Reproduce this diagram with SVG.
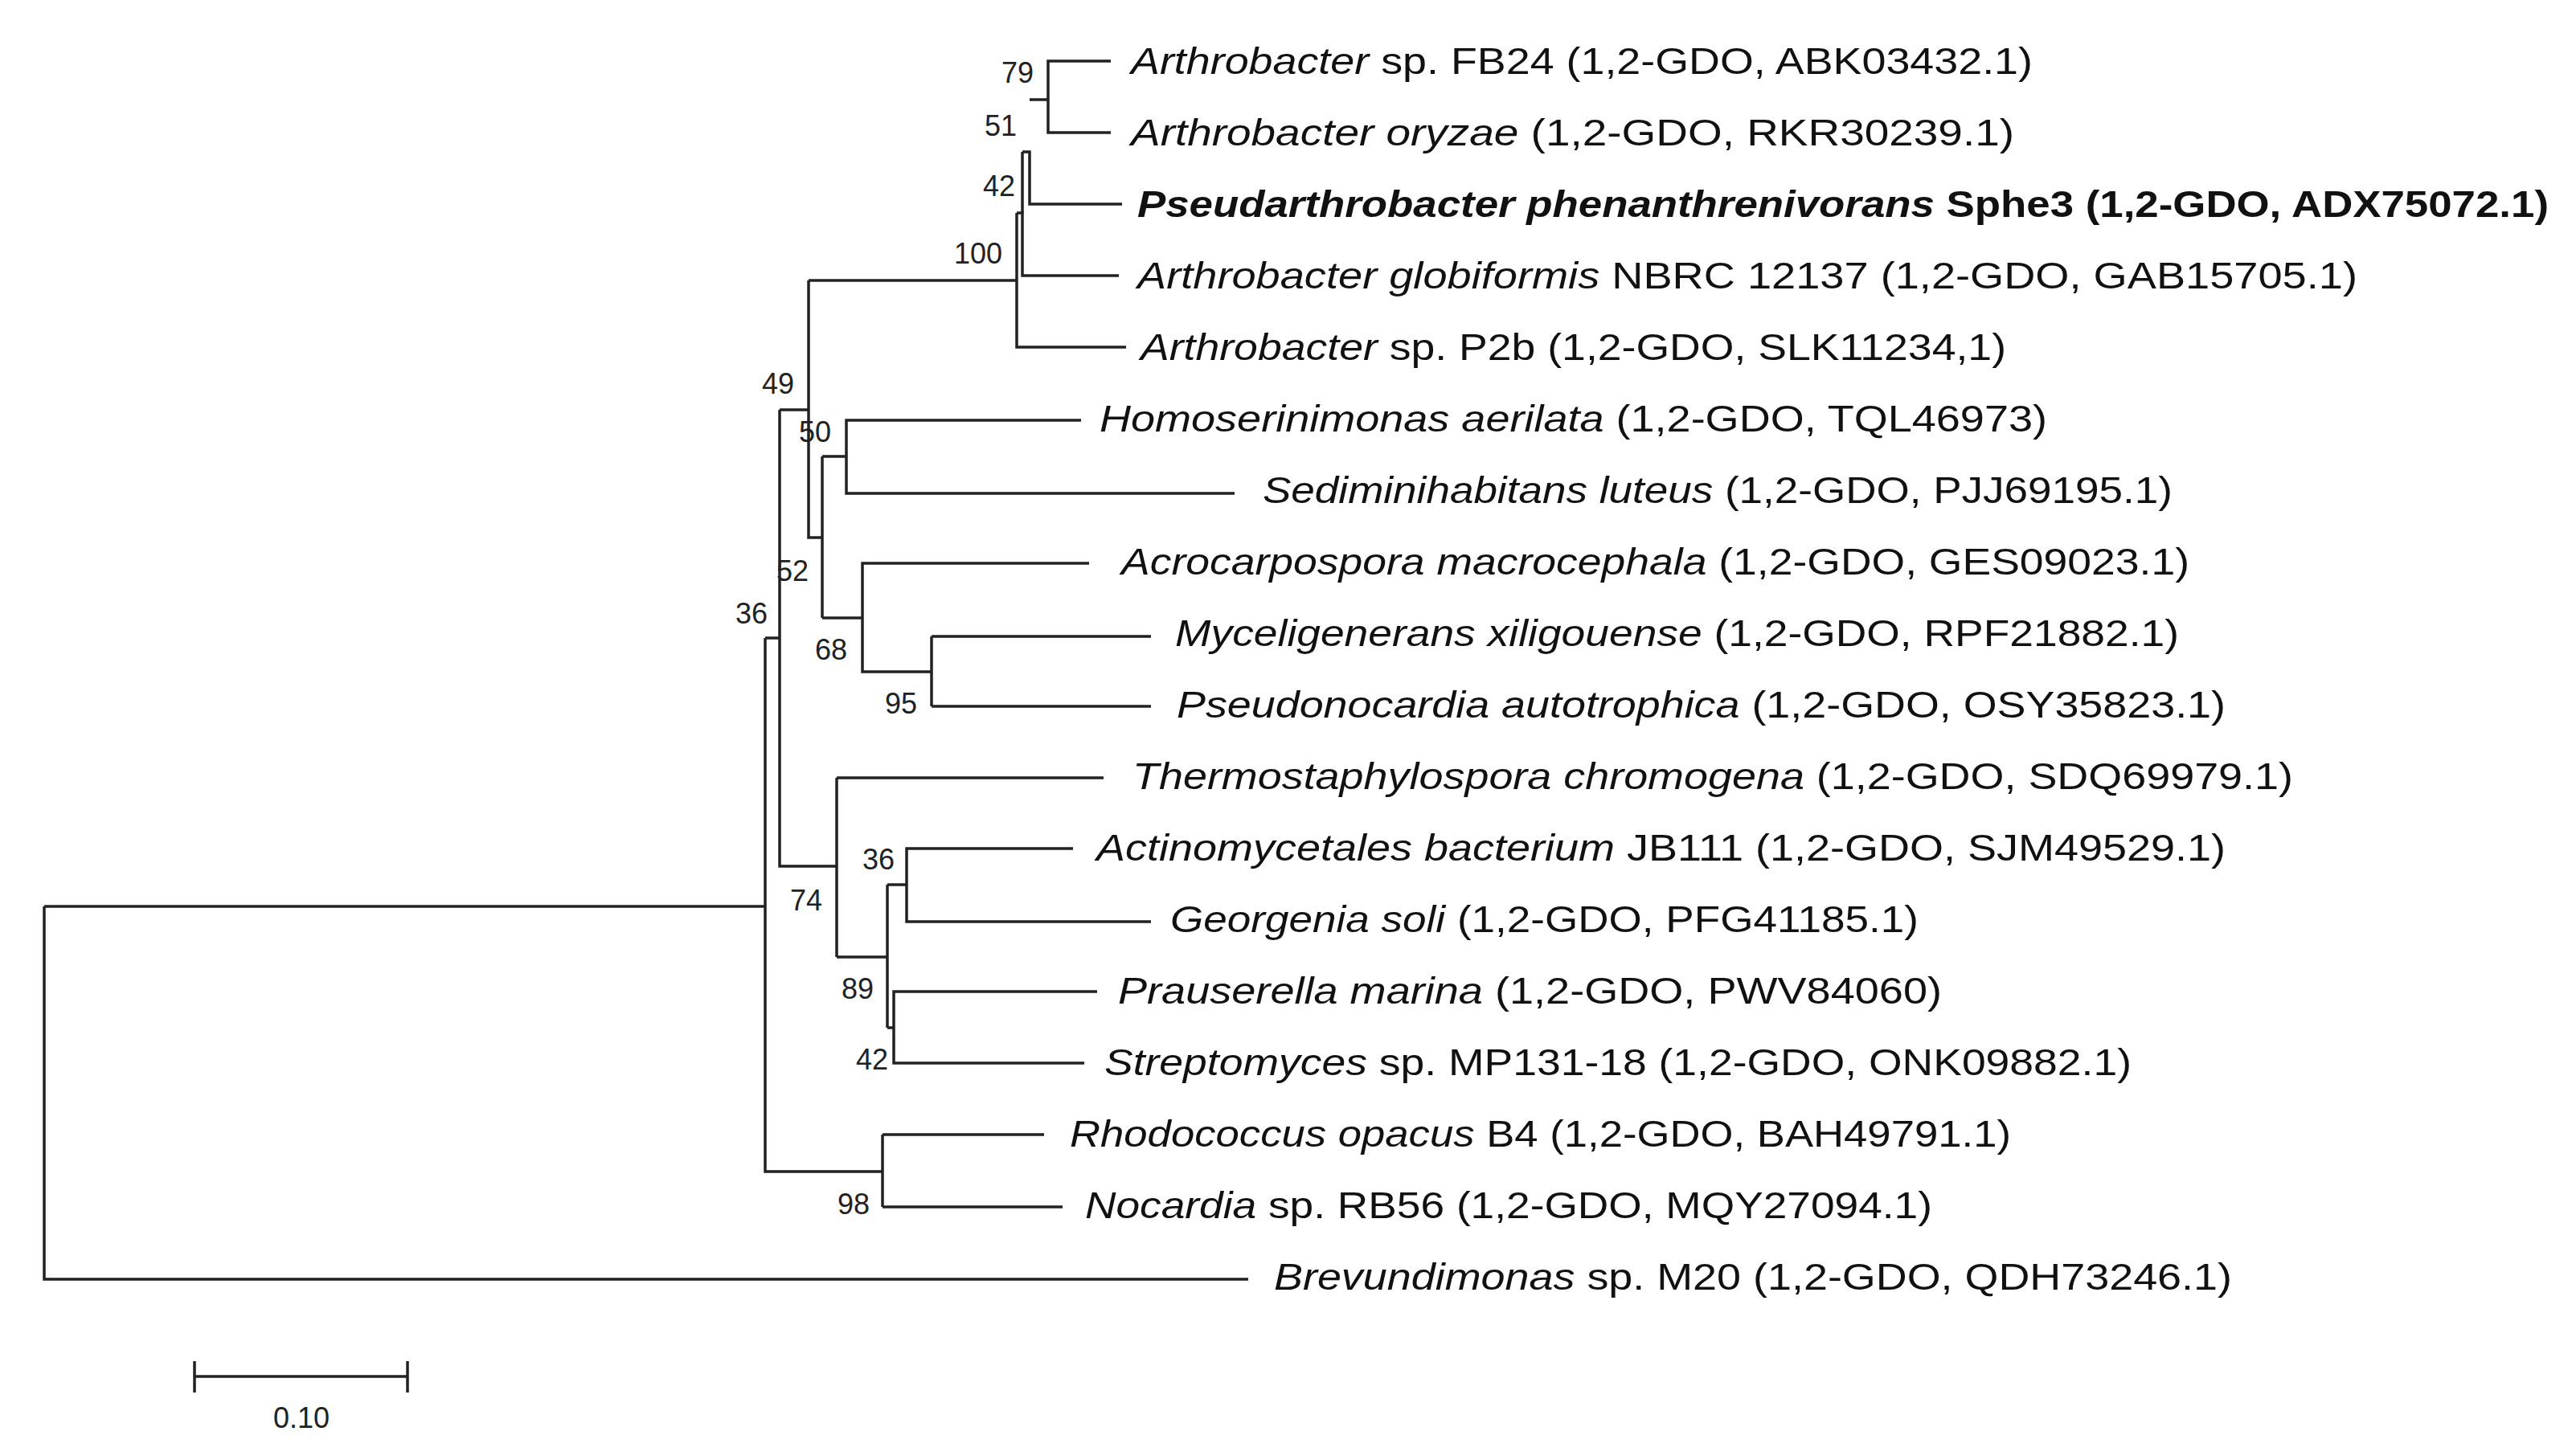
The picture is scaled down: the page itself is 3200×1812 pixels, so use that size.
<svg xmlns="http://www.w3.org/2000/svg" width="3200" height="1812" viewBox="0 0 3200 1812">
<style>
.br{fill:none;stroke:#222;stroke-width:3.5}
.lf{font-family:"Liberation Sans",Arial,sans-serif;font-size:46px;fill:#111}
.i{font-style:italic}
.b{font-weight:bold}
.bs{font-family:"Liberation Sans",Arial,sans-serif;font-size:36px;fill:#222;text-anchor:end}
</style>
<rect width="3200" height="1812" fill="#fff"/>
<g id="connectors" class="br">
<path d="M55,1128V1592H1553"/>
<path d="M55,1128H952"/>
<path d="M952,794V1458H1098"/>
<path d="M1098,1412V1502M1098,1412H1299M1098,1502H1322"/>
<path d="M952,794H970"/>
<path d="M970,510V1078H1041"/>
<path d="M970,510H1006"/>
<path d="M1006,349V669H1023"/>
<path d="M1006,349H1265"/>
<path d="M1265,265V432H1401"/>
<path d="M1265,265H1272V343H1392"/>
<path d="M1272,189V265M1272,189H1281V254H1396"/>
<path d="M1281,124H1304V76H1382M1304,124V165H1382"/>
<path d="M1023,568V769"/>
<path d="M1023,568H1053V523H1345M1053,568V614H1536"/>
<path d="M1023,769H1073V701H1355M1073,769V836H1159"/>
<path d="M1159,792V879M1159,792H1432M1159,879H1432"/>
<path d="M1041,968V1191M1041,968H1373"/>
<path d="M1041,1191H1104V1101M1104,1191V1279"/>
<path d="M1104,1101H1128V1056H1335M1128,1101V1147H1432"/>
<path d="M1104,1279H1112V1234H1365M1112,1279V1323H1349"/>
</g>
<g id="bootstrap" class="bs">
<text x="1286" y="103">79</text>
<text x="1265" y="169">51</text>
<text x="1263" y="244">42</text>
<text x="1247" y="328">100</text>
<text x="988" y="490">49</text>
<text x="1034" y="550">50</text>
<text x="1006" y="723">52</text>
<text x="955" y="776">36</text>
<text x="1054" y="821">68</text>
<text x="1141" y="888">95</text>
<text x="1113" y="1082">36</text>
<text x="1023" y="1133">74</text>
<text x="1087" y="1243">89</text>
<text x="1105" y="1331">42</text>
<text x="1082" y="1511">98</text>
</g>
<g id="n1"><text class="lf" x="1407" y="92" textLength="1122" lengthAdjust="spacingAndGlyphs"><tspan class="i">Arthrobacter</tspan> sp. FB24 (1,2-GDO, ABK03432.1)</text></g>
<g id="n2"><text class="lf" x="1407" y="181" textLength="1099" lengthAdjust="spacingAndGlyphs"><tspan class="i">Arthrobacter oryzae</tspan> (1,2-GDO, RKR30239.1)</text></g>
<g id="n3"><text class="lf b" x="1415" y="270" textLength="1756" lengthAdjust="spacingAndGlyphs"><tspan class="i">Pseudarthrobacter phenanthrenivorans</tspan> Sphe3 (1,2-GDO, ADX75072.1)</text></g>
<g id="n4"><text class="lf" x="1415" y="359" textLength="1518" lengthAdjust="spacingAndGlyphs"><tspan class="i">Arthrobacter globiformis</tspan> NBRC 12137 (1,2-GDO, GAB15705.1)</text></g>
<g id="n5"><text class="lf" x="1419" y="448" textLength="1077" lengthAdjust="spacingAndGlyphs"><tspan class="i">Arthrobacter</tspan> sp. P2b (1,2-GDO, SLK11234,1)</text></g>
<g id="n6"><text class="lf" x="1368" y="537" textLength="1179" lengthAdjust="spacingAndGlyphs"><tspan class="i">Homoserinimonas aerilata</tspan> (1,2-GDO, TQL46973)</text></g>
<g id="n7"><text class="lf" x="1571" y="626" textLength="1132" lengthAdjust="spacingAndGlyphs"><tspan class="i">Sediminihabitans luteus</tspan> (1,2-GDO, PJJ69195.1)</text></g>
<g id="n8"><text class="lf" x="1395" y="715" textLength="1329" lengthAdjust="spacingAndGlyphs"><tspan class="i">Acrocarpospora macrocephala</tspan> (1,2-GDO, GES09023.1)</text></g>
<g id="n9"><text class="lf" x="1462" y="804" textLength="1249" lengthAdjust="spacingAndGlyphs"><tspan class="i">Myceligenerans xiligouense</tspan> (1,2-GDO, RPF21882.1)</text></g>
<g id="n10"><text class="lf" x="1464" y="893" textLength="1305" lengthAdjust="spacingAndGlyphs"><tspan class="i">Pseudonocardia autotrophica</tspan> (1,2-GDO, OSY35823.1)</text></g>
<g id="n11"><text class="lf" x="1409" y="982" textLength="1444" lengthAdjust="spacingAndGlyphs"><tspan class="i">Thermostaphylospora chromogena</tspan> (1,2-GDO, SDQ69979.1)</text></g>
<g id="n12"><text class="lf" x="1364" y="1071" textLength="1405" lengthAdjust="spacingAndGlyphs"><tspan class="i">Actinomycetales bacterium</tspan> JB111 (1,2-GDO, SJM49529.1)</text></g>
<g id="n13"><text class="lf" x="1456" y="1160" textLength="931" lengthAdjust="spacingAndGlyphs"><tspan class="i">Georgenia soli</tspan> (1,2-GDO, PFG41185.1)</text></g>
<g id="n14"><text class="lf" x="1391" y="1249" textLength="1025" lengthAdjust="spacingAndGlyphs"><tspan class="i">Prauserella marina</tspan> (1,2-GDO, PWV84060)</text></g>
<g id="n15"><text class="lf" x="1374" y="1338" textLength="1278" lengthAdjust="spacingAndGlyphs"><tspan class="i">Streptomyces</tspan> sp. MP131-18 (1,2-GDO, ONK09882.1)</text></g>
<g id="n16"><text class="lf" x="1331" y="1427" textLength="1171" lengthAdjust="spacingAndGlyphs"><tspan class="i">Rhodococcus opacus</tspan> B4 (1,2-GDO, BAH49791.1)</text></g>
<g id="n17"><text class="lf" x="1350" y="1516" textLength="1054" lengthAdjust="spacingAndGlyphs"><tspan class="i">Nocardia</tspan> sp. RB56 (1,2-GDO, MQY27094.1)</text></g>
<g id="n18"><text class="lf" x="1585" y="1605" textLength="1192" lengthAdjust="spacingAndGlyphs"><tspan class="i">Brevundimonas</tspan> sp. M20 (1,2-GDO, QDH73246.1)</text></g>
<g id="scalebar">
<path class="br" d="M242,1713H507M242,1694V1733M507,1694V1733"/>
<text x="375" y="1777" style="font-family:'Liberation Sans',Arial,sans-serif;font-size:36px;fill:#222;text-anchor:middle">0.10</text>
</g>
</svg>
